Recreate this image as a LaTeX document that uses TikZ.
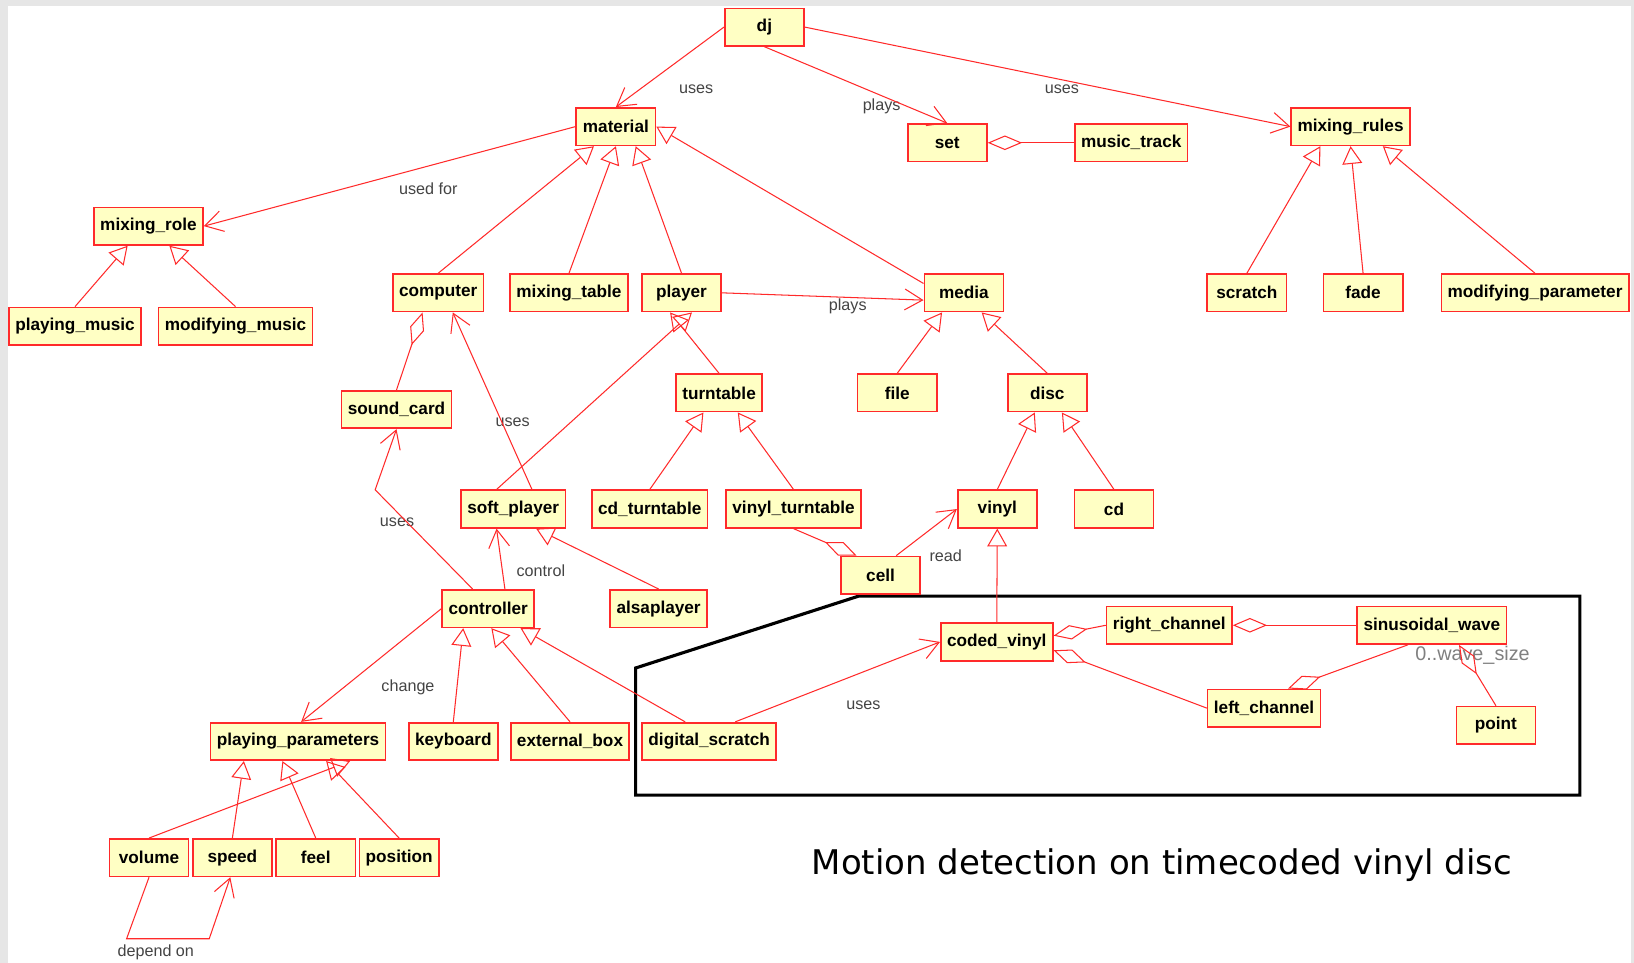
\documentclass[tikz,border=0pt]{standalone}
\usepackage{fontspec}
\setmainfont{Liberation Sans}
\newfontfamily\titlefamily{DejaVu Sans}
\usetikzlibrary{arrows.meta}

\definecolor{umlred}{HTML}{FF2A2A}
\definecolor{umlfill}{HTML}{FFFFC4}
\definecolor{lblgray}{HTML}{444444}
\definecolor{bggray}{HTML}{E6E6E6}

\newcommand\clsfont{\fontsize{16.5}{18}\selectfont\bfseries}
\newcommand\lblfont{\fontsize{15.5}{17}\selectfont}

\tikzset{
	cls/.style={draw=umlred, fill=umlfill, line width=1.6pt, minimum width=76pt, minimum height=36pt, inner xsep=6pt, font=\clsfont},
	lbl/.style={text=lblgray, font=\lblfont, inner sep=0pt},
	assoc/.style={draw=umlred, line width=1pt, -{Straight Barb[length=17pt,width=20pt]}},
	gen/.style={draw=umlred, line width=1pt, -{Triangle[open,length=17pt,width=19pt]}},
	aggr/.style={draw=umlred, line width=1pt, {Diamond[open,length=33pt,width=14pt]}-},
}

\begin{document}
\begin{tikzpicture}[x=1pt,y=-1pt]
		\useasboundingbox (0,0) rectangle (1568,924);
		\fill[bggray] (0,0) rectangle (1568,924);
		\fill[white] (8,6) rectangle (1565,924);
		
		\draw[line width=3pt] (610,641) -- (824,572) -- (1516,572) -- (1516,763) -- (610,763) -- cycle;
		
		\node[cls] (dj) at (733.5,26) {dj};
		
		\node[cls] (material) at (591,121.5) {material};
		\node[cls] (set) at (909,137) {set};
		\node[cls] (music_track) at (1085.5,137) {music\_track};
		\node[cls] (mixing_rules) at (1296,121.5) {mixing\_rules};
		
		\node[cls] (mixing_role) at (142.5,217) {mixing\_role};
		\node[cls] (playing_music) at (72,313) {playing\_music};
		\node[cls] (modifying_music) at (226,313) {modifying\_music};
		
		\node[cls] (computer) at (420.5,281) {computer};
		\node[cls] (mixing_table) at (546,281) {mixing\_table};
		\node[cls] (player) at (654,281) {player};
		\node[cls] (media) at (925,281) {media};
		\node[cls] (scratch) at (1196.5,281) {scratch};
		\node[cls] (fade) at (1308,281) {fade};
		\node[cls] (modifying_parameter) at (1473,281) {modifying\_parameter};
		
		\node[cls] (sound_card) at (380.5,393) {sound\_card};
		\node[cls] (turntable) at (690,377) {turntable};
		\node[cls] (file) at (861,377) {file};
		\node[cls] (disc) at (1005,377) {disc};
		
		\node[cls] (soft_player) at (492.5,488.5) {soft\_player};
		\node[cls] (cd_turntable) at (623.5,488.5) {cd\_turntable};
		\node[cls] (vinyl_turntable) at (761.5,488.5) {vinyl\_turntable};
		\node[cls] (vinyl) at (957,488.5) {vinyl};
		\node[cls] (cd) at (1069,488.5) {cd};
		
		\node[cls] (cell) at (845,552) {cell};
		\node[cls] (controller) at (468.5,584) {controller};
		\node[cls] (alsaplayer) at (632,584) {alsaplayer};
		\node[cls] (coded_vinyl) at (956.5,616) {coded\_vinyl};
		\node[cls] (right_channel) at (1122,600) {right\_channel};
		\node[cls] (sinusoidal_wave) at (1374,600) {sinusoidal\_wave};
		\node[cls] (left_channel) at (1213,679.5) {left\_channel};
		\node[cls] (point) at (1435.5,696) {point};
		
		\node[cls] (playing_parameters) at (286,711.5) {playing\_parameters};
		\node[cls] (keyboard) at (435,711.5) {keyboard};
		\node[cls] (external_box) at (547,711.5) {external\_box};
		\node[cls] (digital_scratch) at (680.5,711.5) {digital\_scratch};
		
		\node[cls] (volume) at (143,823) {volume};
		\node[cls] (speed) at (223,823) {speed};
		\node[cls] (feel) at (303,823) {feel};
		\node[cls] (position) at (383,823) {position};
		
		\node[lbl] (l-uses-material) at (668,86) {uses};
		\node[lbl] (l-plays-set) at (846,102) {plays};
		\node[lbl] (l-uses-rules) at (1019,86) {uses};
		\node[lbl] (l-usedfor) at (411,181) {used for};
		\node[lbl] (l-plays-media) at (813.5,294) {plays};
		\node[lbl] (l-uses-computer) at (492,405) {uses};
		\node[lbl] (l-uses-card) at (381,501) {uses};
		\node[lbl] (l-control) at (519,548) {control};
		\node[lbl] (l-read) at (907.5,533) {read};
		\node[lbl] (l-change) at (391.5,660) {change};
		\node[lbl] (l-uses-coded) at (828.5,677) {uses};
		\node[lbl, font=\fontsize{19}{21}\selectfont, text=gray] (l-wavesize) at (1413,629) {0..wave\_size};
		\node[lbl] (l-depend) at (149.5,914) {depend on};
		
		\node[font=\titlefamily\fontsize{32.6}{36}\selectfont, anchor=base, inner sep=0pt] (title) at (1115,839) {Motion detection on timecoded vinyl disc};
		
		\draw[assoc] (dj.west) -- (material.north);
		\draw[assoc] (dj.south) -- (set.north);
		\draw[assoc] (dj.east) -- (mixing_rules.west);
		\draw[assoc] (material.west) -- (mixing_role.east);
		\draw[aggr] (set.east) -- (music_track.west);
		
		\draw[gen] (computer.north) -- ([xshift=-21pt]material.south);
		\draw[gen] (mixing_table.north) -- (material.south);
		\draw[gen] (player.north) -- ([xshift=19pt]material.south);
		\draw[gen] ([yshift=9pt]media.west) -- (material.east);
		
		\draw[gen] (scratch.north) -- ([xshift=-29pt]mixing_rules.south);
		\draw[gen] (fade.north) -- (mixing_rules.south);
		\draw[gen] (modifying_parameter.north) -- ([xshift=31pt]mixing_rules.south);
		
		\draw[gen] (playing_music.north) -- ([xshift=-20pt]mixing_role.south);
		\draw[gen] (modifying_music.north) -- ([xshift=20pt]mixing_role.south);
		
		\draw[assoc] (player.east) -- ([yshift=-7pt]media.west);
		\draw[aggr] ([xshift=-15pt]computer.south) -- (sound_card.north);
		\draw[assoc] ([xshift=18pt]soft_player.north) -- ([xshift=14pt]computer.south);
		\draw[gen] ([xshift=-16pt]soft_player.north) -- ([xshift=10pt]player.south);
		\draw[gen] (turntable.north) -- ([xshift=-11pt]player.south);
		\draw[gen] (file.north) -- ([xshift=-21pt]media.south);
		\draw[gen] (disc.north) -- ([xshift=17pt]media.south);
		
		\draw[gen] (cd_turntable.north) -- ([xshift=-15pt]turntable.south);
		\draw[gen] (vinyl_turntable.north) -- ([xshift=18pt]turntable.south);
		\draw[gen] (vinyl.north) -- ([xshift=-12pt]disc.south);
		\draw[gen] (cd.north) -- ([xshift=14pt]disc.south);
		
		\draw[assoc] ([xshift=15pt]cell.north) -- (vinyl.west);
		\draw[aggr] ([xshift=-23pt]cell.north) -- (vinyl_turntable.south);
		
		\draw[assoc] ([xshift=-15pt]controller.north) -- (360,470) -- (sound_card.south);
		\draw[assoc] ([xshift=16pt]controller.north) -- ([xshift=-16pt]soft_player.south);
		\draw[gen] (alsaplayer.north) -- ([xshift=22pt]soft_player.south);
		\draw[assoc] (controller.west) -- ([xshift=3pt]playing_parameters.north);
		
		\draw[gen] (keyboard.north) -- ([xshift=-24pt]controller.south);
		\draw[gen] (external_box.north) -- ([xshift=3pt]controller.south);
		\draw[gen] ([xshift=-23pt]digital_scratch.north) -- ([xshift=31pt]controller.south);
		\draw[assoc] ([xshift=25pt]digital_scratch.north) -- (coded_vinyl.west);
		
		\draw[gen] (coded_vinyl.north) -- (vinyl.south);
		\draw[aggr] ([yshift=6pt]coded_vinyl.east) -- (right_channel.west);
		\draw[aggr] ([yshift=-8pt]coded_vinyl.east) -- (left_channel.west);
		\draw[aggr] (right_channel.east) -- (sinusoidal_wave.west);
		\draw[aggr] ([xshift=23pt]left_channel.north) -- ([xshift=-23pt]sinusoidal_wave.south);
		\draw[aggr] ([xshift=26pt]sinusoidal_wave.south) -- (point.north);
		
		\draw[gen] (volume.north) -- ([xshift=50pt]playing_parameters.south);
		\draw[gen] (speed.north) -- ([xshift=-52pt]playing_parameters.south);
		\draw[gen] (feel.north) -- ([xshift=-15pt]playing_parameters.south);
		\draw[gen] (position.north) -- ([xshift=27pt]playing_parameters.south);
		
		\draw[assoc] (volume.south) -- (121.5,900.8) -- (200.8,900.8) -- ([xshift=-2pt]speed.south);
	\end{tikzpicture}
\end{document}
